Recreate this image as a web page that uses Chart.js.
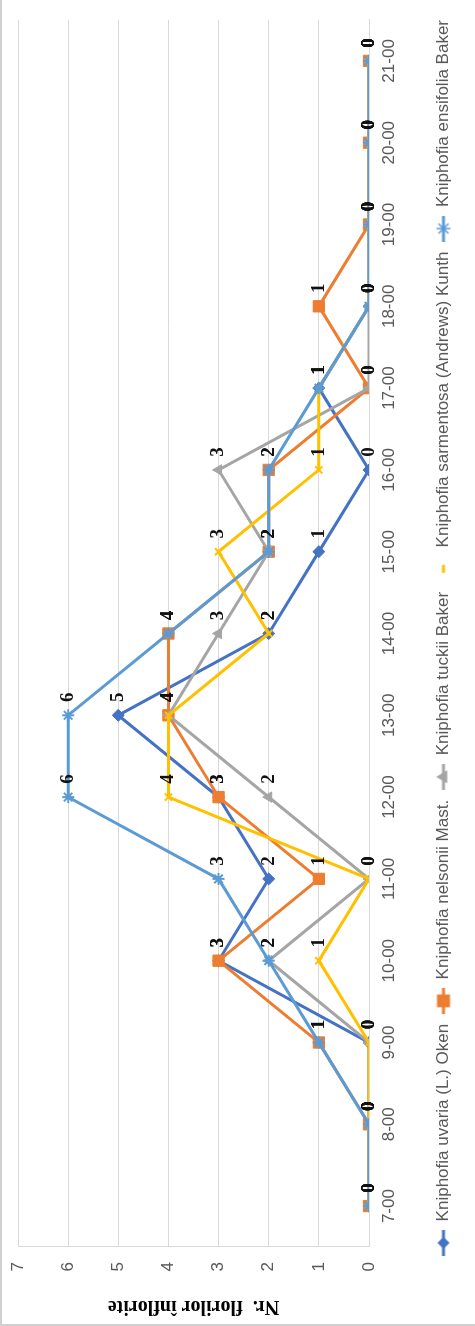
<!DOCTYPE html>
<html>
<head>
<meta charset="utf-8">
<script src="https://cdn.jsdelivr.net/npm/chart.js@4.4.1/dist/chart.umd.min.js"></script>
<style>
    html, body { margin: 0; padding: 0; background: #fff; overflow: hidden; }
    body { width: 475px; height: 1326px; position: relative; }
    /* graficul e desenat orizontal si apoi rotit cu 90 de grade */
    #wrap {
        position: absolute; left: 0; top: 0;
        width: 1326px; height: 475px;
        transform-origin: 0 0;
        transform: translate(0, 1326px) rotate(-90deg);
    }
</style>
</head>
<body>
<div id="wrap"><canvas id="chart" width="1326" height="475"></canvas></div>
<script>
// ore de observatie
const hours = ['7-00', '8-00', '9-00', '10-00', '11-00', '12-00', '13-00', '14-00',
               '15-00', '16-00', '17-00', '18-00', '19-00', '20-00', '21-00'];

// numarul de flori inflorite pe specie
const uvaria     = [0, 0, 0, 3, 2, 3, 5, 2, 1, 0, 1, 0, 0, 0, 0];
const nelsonii   = [0, 0, 1, 3, 1, 3, 4, 4, 2, 2, 0, 1, 0, 0, 0];
const tuckii     = [0, 0, 0, 2, 0, 2, 4, 3, 2, 3, 0, 0, 0, 0, 0];
const sarmentosa = [0, 0, 0, 1, 0, 4, 4, 2, 3, 1, 1, 0, 0, 0, 0];
const ensifolia  = [0, 0, 1, 2, 3, 6, 6, 4, 2, 2, 1, 0, 0, 0, 0];

const seriesNames = [
    'Kniphofia uvaria (L.) Oken',
    'Kniphofia nelsonii Mast.',
    'Kniphofia tuckii Baker',
    'Kniphofia sarmentosa (Andrews) Kunth',
    'Kniphofia ensifolia Baker'
];

const yTickValues = [0, 1, 2, 3, 4, 5, 6, 7];

const textGray = '#595959';
const gridGray = '#d9d9d9';

// pictograme pentru legenda (linie + marker)
function legendIcon(color, style, radius, dashOnly) {
    const c = document.createElement('canvas');
    c.width = 26; c.height = 18;
    const g = c.getContext('2d');
    g.strokeStyle = color;
    g.fillStyle = color;
    g.lineWidth = 3;
    if (dashOnly) {
        g.beginPath(); g.moveTo(9, 9); g.lineTo(17, 9); g.stroke();
        return c;
    }
    g.beginPath(); g.moveTo(0, 9); g.lineTo(26, 9); g.stroke();
    g.lineWidth = 1.5;
    Chart.helpers.drawPoint(g, { pointStyle: style, radius: radius, borderWidth: 1.5, rotation: 0 }, 13, 9);
    return c;
}

const icons = [
    legendIcon('#4472C4', 'rectRot', 5),
    legendIcon('#ED7D31', 'rect', 8),
    legendIcon('#A5A5A5', 'triangle', 6),
    legendIcon('#FFC000', 'crossRot', 5, true),
    legendIcon('#5B9BD5', 'star', 7)
];

// etichete cu valori, chenarul din stanga/sus si mutarea legendei
const extras = {
    id: 'extras',
    beforeDraw(chart) {
        const lg = chart.legend;
        if (lg && !lg._moved) {
            lg.left += 10;
            lg.right += 10;
            lg._moved = true;
        }
        const ctx = chart.ctx;
        ctx.save();
        ctx.strokeStyle = '#d0d0d0';
        ctx.lineWidth = 2;
        ctx.beginPath();
        ctx.moveTo(1, chart.height);
        ctx.lineTo(1, 1);
        ctx.lineTo(chart.width, 1);
        ctx.stroke();
        ctx.restore();
    },
    afterDatasetsDraw(chart) {
        const ctx = chart.ctx;
        ctx.save();
        ctx.font = 'bold 19px "Liberation Serif", serif';
        ctx.fillStyle = '#111';
        ctx.textAlign = 'center';
        ctx.textBaseline = 'middle';
        chart.data.datasets.forEach((ds, i) => {
            const meta = chart.getDatasetMeta(i);
            meta.data.forEach((pt, j) => {
                ctx.fillText(String(ds.data[j]), pt.x + 18, pt.y);
            });
        });
        ctx.restore();
    }
};

function makeSet(idx, data, color, style, radius, order) {
    return {
        label: seriesNames[idx],
        data: data,
        borderColor: color,
        backgroundColor: color,
        borderWidth: 3,
        pointStyle: style,
        pointRadius: radius,
        pointBorderWidth: style === 'crossRot' || style === 'star' ? 2 : 1,
        pointBackgroundColor: color,
        pointBorderColor: color,
        tension: 0,
        order: order
    };
}

const ctx = document.getElementById('chart').getContext('2d');
new Chart(ctx, {
    type: 'line',
    data: {
        labels: hours,
        datasets: [
            makeSet(0, uvaria, '#4472C4', 'rectRot', 6, 5),
            makeSet(1, nelsonii, '#ED7D31', 'rect', 8, 4),
            makeSet(2, tuckii, '#A5A5A5', 'triangle', 6, 3),
            makeSet(3, sarmentosa, '#FFC000', 'crossRot', 5, 2),
            makeSet(4, ensifolia, '#5B9BD5', 'star', 6, 1)
        ]
    },
    options: {
        responsive: false,
        animation: false,
        devicePixelRatio: 1,
        layout: { padding: { left: 0, right: 20, top: 18, bottom: 13 } },
        plugins: {
            tooltip: { enabled: false },
            legend: {
                position: 'bottom',
                align: 'end',
                labels: {
                    usePointStyle: true,
                    pointStyleWidth: 26,
                    padding: 10,
                    color: textGray,
                    font: { family: '"Liberation Sans", Arial, sans-serif', size: 17 },
                    sort: (a, b) => a.datasetIndex - b.datasetIndex,
                    generateLabels(chart) {
                        const items = Chart.defaults.plugins.legend.labels.generateLabels(chart);
                        items.forEach(it => { it.pointStyle = icons[it.datasetIndex]; });
                        return items;
                    }
                }
            }
        },
        scales: {
            x: {
                offset: true,
                grid: { display: false, drawTicks: false },
                border: { display: true, color: gridGray, width: 1 },
                ticks: {
                    color: textGray,
                    padding: 10,
                    maxRotation: 0,
                    autoSkip: false,
                    font: { family: '"Liberation Sans", Arial, sans-serif', size: 17 }
                },
                afterFit(scale) { scale.height = 56; }
            },
            y: {
                min: 0,
                max: 7,
                afterBuildTicks(scale) {
                    scale.ticks = yTickValues.map(v => ({ value: v }));
                },
                grid: { color: gridGray, lineWidth: 1, drawTicks: false },
                border: { display: true, color: gridGray, width: 1 },
                ticks: {
                    color: textGray,
                    padding: 15,
                    font: { family: '"Liberation Sans", Arial, sans-serif', size: 17 }
                },
                title: {
                    display: true,
                    text: 'Nr.  florilor înflorite',
                    color: '#000',
                    padding: { top: 8, bottom: 0 },
                    font: { family: '"Liberation Serif", "Times New Roman", serif', size: 20, weight: 'bold' }
                },
                afterFit(scale) {
                    scale.width = 79;
                    scale.paddingTop = 0;
                    scale.paddingBottom = 0;
                }
            }
        }
    },
    plugins: [extras]
});
</script>
</body>
</html>
